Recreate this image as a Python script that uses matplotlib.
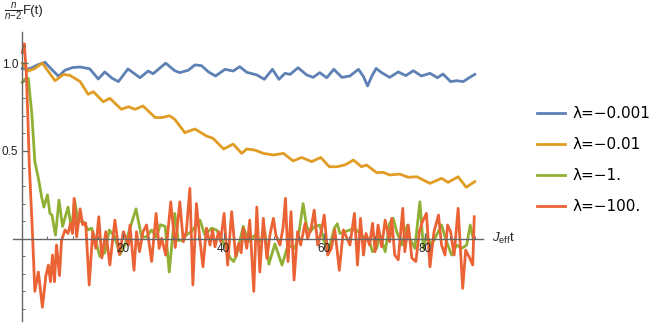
import numpy as np
import matplotlib
matplotlib.use("Agg")
from matplotlib import pyplot as plt
from matplotlib.ticker import FixedLocator

plt.rcParams['font.family'] = ['Liberation Sans', 'DejaVu Sans']
plt.rcParams['mathtext.fontset'] = 'custom'
plt.rcParams['mathtext.rm'] = 'Liberation Sans'
plt.rcParams['mathtext.it'] = 'Liberation Sans:italic'

# values
t_blue = [0, 1, 2, 3, 4.5, 6, 7.2, 8.5, 10, 11.5, 13.4, 15.1, 16.4, 17.8, 19.1, 21, 23.4, 25, 26, 28.5,
          30.3, 31.3, 33, 34.3, 35.6, 37, 38.4, 40.3, 41.9, 43.2, 44.6, 46.6, 48.1, 49.7, 51, 52.2, 53.2,
          54.8, 56.5, 57.8, 59.1, 60.5, 61.9, 63.5, 65.1, 66.8, 67.8, 68.6, 69.4, 70.3, 71.4, 73, 74.7,
          76.2, 77.7, 79.3, 81, 82.5, 83.6, 85.1, 86.3, 87.6, 88.8, 89.9]
f_blue = [0.97, 0.965, 0.975, 0.99, 1.005, 0.96, 0.925, 0.96, 0.975, 0.978, 0.968, 0.91, 0.95, 0.915, 0.895,
          0.967, 0.917, 0.955, 0.94, 1.0, 0.957, 0.946, 0.96, 0.99, 0.986, 0.95, 0.927, 0.965, 0.955, 0.98,
          0.948, 0.933, 0.908, 0.965, 0.908, 0.942, 0.936, 0.974, 0.933, 0.919, 0.946, 0.917, 0.965, 0.919,
          0.927, 0.965, 0.923, 0.87, 0.923, 0.97, 0.946, 0.919, 0.95, 0.929, 0.957, 0.927, 0.942, 0.917,
          0.938, 0.895, 0.9, 0.895, 0.917, 0.936]

t_orange = [0, 1.2, 2.5, 4, 5, 6.5, 8.2, 9.5, 11.5, 13.1, 14.1, 16.1, 17.4, 19.7, 21.1, 22.4, 24, 26.4,
            27.7, 29.3, 30.3, 32.3, 34.3, 36.6, 37.9, 40, 41.9, 43.6, 44.6, 46.2, 47.9, 49.9, 51.9, 53.8,
            55.5, 57.5, 59.3, 61, 62.5, 64.1, 65.8, 67.4, 68.4, 70.4, 71.7, 73, 75, 76.7, 78.4, 81, 83.3,
            84.6, 86.6, 88.2, 89.9]
f_orange = [1.0, 0.955, 0.97, 1.0, 0.96, 0.9, 0.936, 0.93, 0.895, 0.822, 0.838, 0.78, 0.8, 0.737, 0.752,
            0.737, 0.756, 0.69, 0.69, 0.7, 0.68, 0.604, 0.625, 0.585, 0.572, 0.511, 0.539, 0.486, 0.511,
            0.505, 0.486, 0.477, 0.486, 0.443, 0.463, 0.439, 0.463, 0.41, 0.41, 0.42, 0.448, 0.41, 0.42,
            0.376, 0.378, 0.363, 0.368, 0.35, 0.353, 0.315, 0.344, 0.321, 0.353, 0.293, 0.325]

t_green = [0, 0.6, 1.2, 1.9, 2.5, 3.2, 3.9, 4.3, 5.0, 5.5, 5.9, 6.6, 7.3, 8.0, 9.1, 9.8, 10.4, 11.1, 12.1,
           13.1, 13.8, 14.8, 15.4, 16.4, 17.3, 18.4, 19.4, 20.4, 21.4, 22.6, 23.7, 24.7, 25.7, 26.7, 27.4,
           28.4, 29.2, 30.3, 31.0, 31.7, 32.5, 33.6, 35.3, 36.3, 37.6, 38.6, 39.6, 41.3, 42.0, 42.6, 43.9,
           44.9, 46.2, 47.2, 48.2, 49.0, 50.2, 51.6, 52.8, 54.2, 55.0, 55.8, 56.5, 57.2, 58.1, 59.1, 60.0,
           60.8, 62.0, 62.6, 63.1, 65.1, 66.4, 67.8, 68.8, 69.6, 70.4, 71.1, 72.1, 73.0, 73.7, 74.4, 75.4,
           76.5, 77.0, 78.0, 79.0, 79.7, 80.3, 81.3, 82.3, 83.3, 84.3, 85.3, 86.3, 87.3, 88.3, 89.0, 89.6]
f_green = [0.89, 0.91, 0.915, 0.71, 0.44, 0.344, 0.23, 0.18, 0.25, 0.144, 0.135, 0.02, 0.22, 0.07, 0.18,
           0.05, 0.22, 0.1, 0.097, 0.05, 0.06, -0.036, -0.1, -0.08, 0.05, 0.01, -0.09, -0.036, 0.06, 0.17,
           0.01, 0.01, 0.05, 0.01, 0.08, 0.07, -0.19, 0.144, -0.01, -0.01, 0.02, 0.04, 0.106, 0.02, 0.06,
           0.05, 0.0, -0.11, -0.13, -0.093, 0.07, -0.017, 0.02, -0.017, 0.04, -0.145, -0.03, -0.15, -0.036,
           -0.055, 0.04, 0.2, 0.07, 0.04, 0.07, 0.078, -0.017, -0.074, 0.06, 0.085, 0.03, 0.05, 0.05, 0.01,
           0.0, -0.074, -0.055, 0.02, -0.074, 0.088, 0.116, 0.04, -0.036, 0.078, 0.0, -0.055, 0.21, -0.055,
           0.02, -0.036, 0.02, 0.078, -0.017, -0.093, -0.036, -0.055, -0.036, 0.078, 0.0]

t_red = [0, 0.4, 0.8, 1.1, 1.4, 2.0, 2.5, 3.2, 4.0, 4.7, 5.2, 5.6, 6.0, 6.4, 6.8, 7.4, 7.8, 8.5, 9.1, 9.6,
         10.0, 10.3, 10.8, 11.5, 12.0, 12.6, 13.3, 14.0, 14.6, 15.2, 15.8, 16.6, 17.4, 18.4, 19.3, 20.1,
         21.1, 21.4, 22.2, 22.7, 23.3, 24.0, 24.7, 25.7, 26.6, 27.2, 27.7, 28.5, 29.5, 30.4, 31.3, 32.0,
         32.6, 33.3, 33.9, 34.6, 35.3, 35.9, 36.6, 37.3, 37.8, 38.3, 39.0, 39.4, 40.1, 40.8, 41.6, 42.4,
         43.0, 43.5, 43.9, 44.6, 45.2, 46.0, 46.6, 47.2, 47.9, 48.6, 49.2, 49.9, 50.4, 51.2, 51.8, 52.3,
         52.8, 53.4, 54.0, 54.7, 55.3, 56.2, 56.7, 57.4, 58.0, 58.7, 59.4, 60.0, 60.7, 61.4, 62.1, 63.0,
         63.8, 64.4, 65.1, 66.0, 66.6, 67.2, 67.8, 68.3, 69.0, 69.6, 70.1, 70.7, 71.4, 72.1, 73.0, 73.4,
         74.0, 74.7, 75.6, 76.0, 76.7, 77.4, 78.2, 78.9, 79.5, 80.3, 81.0, 81.8, 82.7, 83.3, 84.0, 84.5,
         85.1, 85.8, 86.6, 87.5, 88.1, 88.9, 89.5, 89.8]
f_red = [1.06, 1.11, 0.95, 0.7, 0.42, 0.05, -0.3, -0.19, -0.39, -0.21, -0.15, -0.245, -0.093, -0.245, -0.036,
         -0.21, -0.01, 0.05, 0.03, 0.088, 0.03, 0.23, 0.01, 0.17, 0.08, 0.09, -0.264, 0.04, -0.055, 0.125,
         -0.11, 0.04, -0.15, 0.106, -0.09, 0.04, -0.036, 0.078, -0.18, 0.04, -0.074, 0.04, 0.078, -0.13,
         0.144, -0.055, 0.002, -0.093, 0.21, -0.05, 0.21, -0.017, 0.04, 0.287, -0.264, 0.2, -0.008, -0.16,
         0.06, -0.036, 0.05, -0.046, 0.04, -0.017, 0.144, -0.15, 0.154, -0.1, -0.027, -0.08, 0.06, -0.055,
         0.106, -0.3, 0.18, -0.19, 0.116, -0.112, 0.02, 0.116, 0.02, -0.036, 0.06, 0.23, -0.13, 0.154,
         -0.235, 0.04, -0.036, 0.088, 0.0, 0.06, 0.163, -0.036, 0.04, 0.135, -0.093, -0.055, 0.05, -0.18,
         0.05, 0.01, -0.036, 0.144, -0.15, 0.116, -0.093, 0.03, -0.036, 0.088, -0.074, 0.078, -0.046,
         0.106, -0.017, 0.116, -0.093, -0.12, 0.173, -0.074, 0.078, -0.11, -0.13, 0.04, 0.097, 0.144,
         -0.16, 0.04, 0.135, -0.036, -0.093, 0.078, 0.04, -0.093, 0.173, -0.283, -0.065, -0.11, -0.15,
         0.125]

labels = ['λ=−0.001', 'λ=−0.01', 'λ=−1.', 'λ=−100.']
colors = ['#5E81B5', '#E19C24', '#8FB032', '#EB6235']

fig = plt.figure(figsize=(6.64, 3.24), dpi=100)
# x from -1.9 to 91.5 -> pixels 12.7 .. 482.8
ax = fig.add_axes([12.7 / 664, 0.0086, 470.1 / 664, 0.894])

series = [(t_blue, f_blue), (t_orange, f_orange), (t_green, f_green), (t_red, f_red)]
for (t, f), c, lab in zip(series, colors, labels):
    ax.plot(t, f, color=c, lw=2.0, label=lab, solid_joinstyle='round')

ax.set_xlim(-1.9, 91.5)
ax.set_ylim(-0.47, 1.18)
ax.set_axisbelow(False)

axis_col = '#666666'
ax.spines['top'].set_visible(False)
ax.spines['right'].set_visible(False)
ax.spines['bottom'].set_position(('data', 0))
ax.spines['left'].set_position(('data', 0))
for s in ['left', 'bottom']:
    ax.spines[s].set_color(axis_col)
    ax.spines[s].set_linewidth(1.0)

ax.xaxis.set_major_locator(FixedLocator([20, 40, 60, 80]))
ax.xaxis.set_minor_locator(FixedLocator([5, 10, 15, 25, 30, 35, 45, 50, 55, 65, 70, 75, 85, 90]))
ax.yaxis.set_major_locator(FixedLocator([0.5, 1.0]))
ax.yaxis.set_minor_locator(FixedLocator([-0.4, -0.3, -0.2, -0.1, 0.1, 0.2, 0.3, 0.4, 0.6, 0.7, 0.8, 0.9, 1.1]))
ax.tick_params(which='both', direction='in', color=axis_col, labelcolor='#222222', labelsize=8.5)
ax.tick_params(which='major', length=4, width=0.9, pad=3)
ax.tick_params(which='minor', length=2.5, width=0.7)
ax.set_xticklabels(['20', '40', '60', '80'])
ax.set_yticklabels(['0.5', '1.0'])

ax.text(93.3, 0, r'$J_{\mathrm{eff}}$t', fontsize=9.5, va='center', ha='left', color='#222222')
fig.text(4 / 664, 0.998, r'$\frac{n}{n{-}2}$', fontsize=10, va='top', ha='left', color='#222222')
fig.text(22.5 / 664, 0.965, 'F(t)', fontsize=9.5, va='center', ha='left', color='#222222')

ax.legend(loc='center left', bbox_to_anchor=(537 / 664, 0.506), bbox_transform=fig.transFigure,
          frameon=False, prop={'family': 'DejaVu Sans', 'size': 11}, borderpad=0, borderaxespad=0,
          handlelength=1.85, handletextpad=0.5, labelspacing=1.05)

fig.savefig('out.png', dpi=100)
